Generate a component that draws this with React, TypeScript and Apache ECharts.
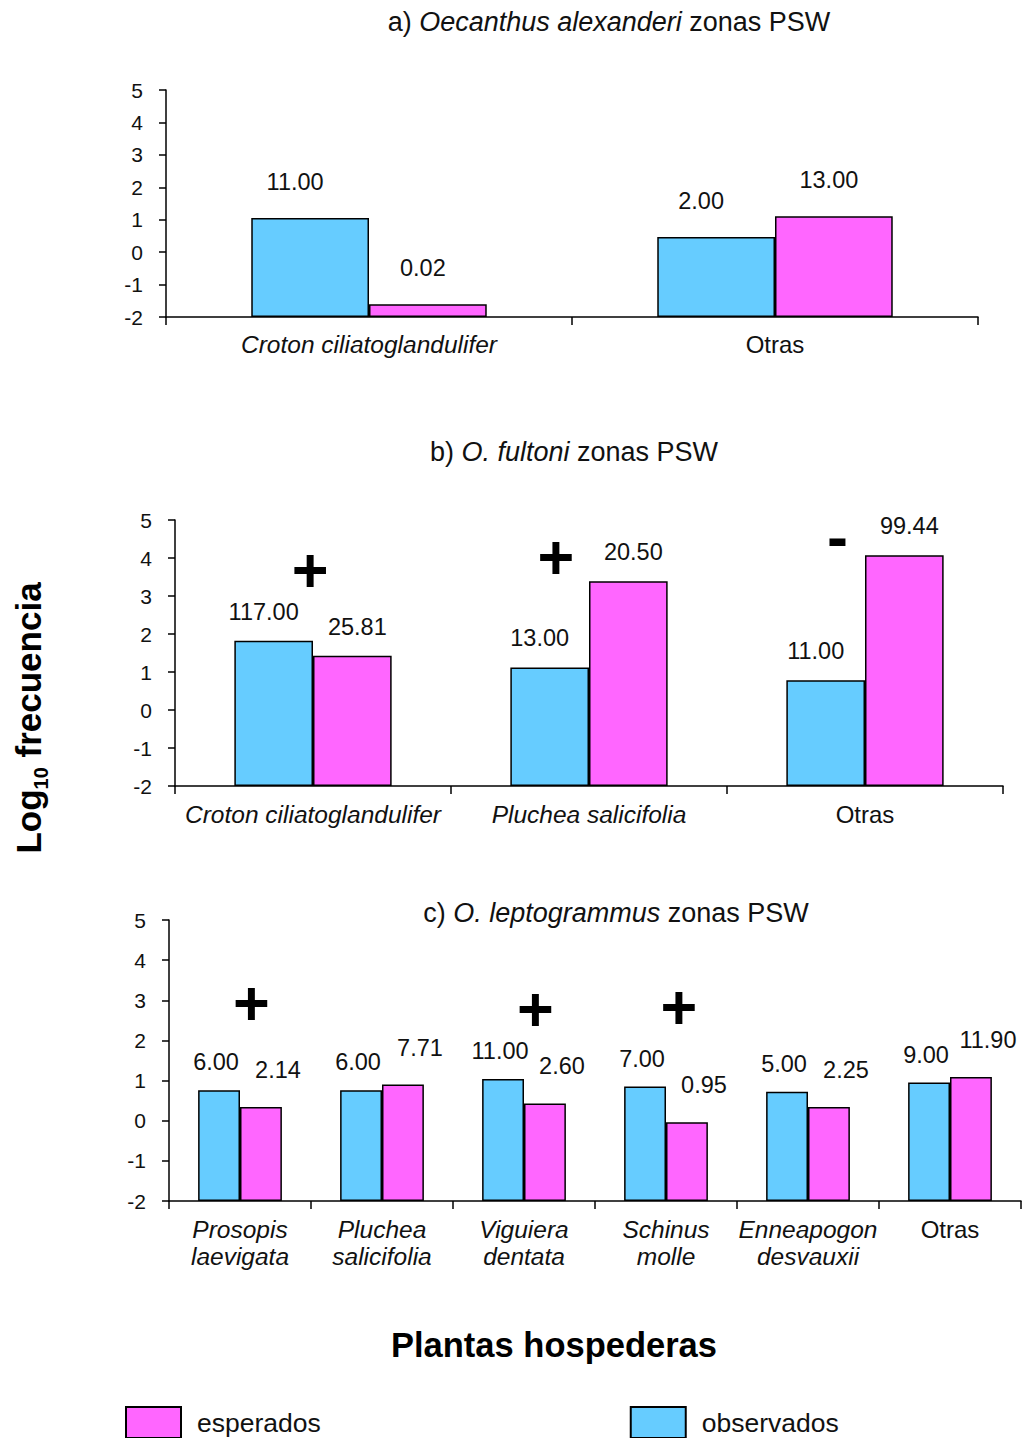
import React, { useEffect, useRef } from 'react';
import * as echarts from 'echarts';

// ---- axis range (log10 frecuencia) ----
const Y_MIN = -2;
const Y_MAX = 5;
const Y_STEP = 1;

// ---- a) Oecanthus alexanderi ----
const categoriesA = ['Croton ciliatoglandulifer', 'Otras'];
const observadosA = [1.05, 0.47];
const esperadosA = [-1.61, 1.11];
const observadosLabelsA = ['11.00', '2.00'];
const esperadosLabelsA = ['0.02', '13.00'];
const signsA: { at: number; level: number; mark: string }[] = [];

// ---- b) O. fultoni ----
const categoriesB = ['Croton ciliatoglandulifer', 'Pluchea salicifolia', 'Otras'];
const observadosB = [1.82, 1.12, 0.78];
const esperadosB = [1.43, 3.39, 4.07];
const observadosLabelsB = ['117.00', '13.00', '11.00'];
const esperadosLabelsB = ['25.81', '20.50', '99.44'];
// significance marks: position along the category axis (index units) and level (log10)
const signsB = [
  { at: -0.01, level: 3.68, mark: '+' },
  { at: 0.88, level: 4.03, mark: '+' },
  { at: 1.9, level: 4.55, mark: '-' },
];

// ---- c) O. leptogrammus ----
const categoriesC = [
  'Prosopis\nlaevigata',
  'Pluchea\nsalicifolia',
  'Viguiera\ndentata',
  'Schinus\nmolle',
  'Enneapogon\ndesvauxii',
  'Otras',
];
const observadosC = [0.76, 0.76, 1.04, 0.85, 0.72, 0.95];
const esperadosC = [0.34, 0.9, 0.43, -0.04, 0.34, 1.09];
const observadosLabelsC = ['6.00', '6.00', '11.00', '7.00', '5.00', '9.00'];
const esperadosLabelsC = ['2.14', '7.71', '2.60', '0.95', '2.25', '11.90'];
const signsC = [
  { at: 0.08, level: 2.93, mark: '+' },
  { at: 2.08, level: 2.78, mark: '+' },
  { at: 3.09, level: 2.83, mark: '+' },
];

const SERIES_OBS = 'observados';
const SERIES_EXP = 'esperados';
const BLUE = '#66CCFF';
const PINK = '#FF66FF';
const FONT = '"Liberation Sans", Arial, Helvetica, sans-serif';
const TXT = '#111';

const shift = (v: number) => v - Y_MIN;

const catFormatter = (v: string) =>
  v === 'Otras'
    ? '{n|Otras}'
    : v
        .split('\n')
        .map((l) => `{i|${l}}`)
        .join('\n');

function buildPanel(
  idx: number,
  cats: string[],
  obs: number[],
  exp: number[],
  obsLabels: string[],
  expLabels: string[],
  signs: { at: number; level: number; mark: string }[],
  gap: string,
  obsDist: number,
  expDist: number,
  catMargin: number,
  obsShift: number,
  expShift: number
) {
  const xAxis = {
    type: 'category',
    gridIndex: idx,
    data: cats,
    axisLine: { show: true, onZero: false, lineStyle: { color: '#000', width: 1.5 } },
    axisTick: { show: true, length: 8, lineStyle: { color: '#000', width: 1.5 } },
    axisLabel: {
      interval: 0,
      margin: catMargin,
      formatter: catFormatter,
      rich: {
        i: { fontFamily: FONT, fontStyle: 'italic', fontSize: 24.5, lineHeight: 27, color: TXT },
        n: { fontFamily: FONT, fontSize: 24, lineHeight: 27, color: TXT },
      },
    },
    splitLine: { show: false },
  };
  // hidden continuous axis across the same categories, used to place the significance marks
  const signAxis = {
    type: 'value',
    gridIndex: idx,
    min: -0.5,
    max: cats.length - 0.5,
    show: false,
    axisLine: { onZero: false },
    splitLine: { show: false },
  };
  const yAxis = {
    type: 'value',
    gridIndex: idx,
    min: shift(Y_MIN),
    max: shift(Y_MAX),
    interval: Y_STEP,
    axisLine: { show: true, onZero: false, lineStyle: { color: '#000', width: 1.5 } },
    axisTick: { show: true, length: 7, lineStyle: { color: '#000', width: 1.5 } },
    axisLabel: {
      margin: 23,
      fontFamily: FONT,
      fontSize: 21,
      color: TXT,
      formatter: (v: number) => String(v + Y_MIN),
    },
    splitLine: { show: false },
  };
  const labelStyle = {
    show: true,
    position: 'top',
    fontFamily: FONT,
    fontSize: 23.5,
    color: TXT,
  };
  const series: any[] = [
    {
      name: SERIES_OBS,
      type: 'bar',
      xAxisIndex: idx,
      yAxisIndex: idx,
      data: obs.map(shift),
      barGap: '0%',
      barCategoryGap: gap,
      itemStyle: { color: BLUE, borderColor: '#000', borderWidth: 1.5 },
      label: {
        ...labelStyle,
        distance: obsDist,
        offset: [obsShift, 0],
        formatter: (p: any) => obsLabels[p.dataIndex],
      },
    },
    {
      name: SERIES_EXP,
      type: 'bar',
      xAxisIndex: idx,
      yAxisIndex: idx,
      data: exp.map(shift),
      barGap: '0%',
      barCategoryGap: gap,
      itemStyle: { color: PINK, borderColor: '#000', borderWidth: 1.5 },
      label: {
        ...labelStyle,
        distance: expDist,
        offset: [expShift, 0],
        formatter: (p: any) => expLabels[p.dataIndex],
      },
    },
  ];
  if (signs.length) {
    series.push({
      name: 'signos',
      type: 'scatter',
      xAxisIndex: 3 + idx,
      yAxisIndex: idx,
      silent: true,
      symbol: 'rect',
      symbolSize: 1,
      itemStyle: { color: 'rgba(0,0,0,0)', opacity: 1 },
      label: {
        show: true,
        position: 'inside',
        fontFamily: FONT,
        fontWeight: 'bold',
        fontSize: 63,
        lineHeight: 30,
        color: '#000',
        opacity: 1,
        formatter: (p: any) => p.name,
      },
      data: signs.map((s) => ({ name: s.mark, value: [s.at, shift(s.level)] })),
    });
  }
  return { xAxis, signAxis, yAxis, series };
}

function titleText(x: number, y: number, pre: string, ital: string, post: string) {
  return {
    type: 'text',
    x,
    y,
    style: {
      text: `{n|${pre}}{i|${ital}}{n|${post}}`,
      align: 'center',
      verticalAlign: 'middle',
      fill: TXT,
      rich: {
        n: { fontFamily: FONT, fontSize: 27, fill: TXT },
        i: { fontFamily: FONT, fontSize: 27, fontStyle: 'italic', fill: TXT },
      },
    },
  };
}

export default function App() {
  const ref = useRef<HTMLDivElement>(null);

  useEffect(() => {
    if (!ref.current) return;
    const chart = echarts.init(ref.current, null, { renderer: 'svg' });
    const pA = buildPanel(0, categoriesA, observadosA, esperadosA, observadosLabelsA, esperadosLabelsA, signsA, '42%', 24, 24, 14, -15, -5);
    const pB = buildPanel(1, categoriesB, observadosB, esperadosB, observadosLabelsB, esperadosLabelsB, signsB, '43%', 17, 17, 15, -10, 5);
    const pC = buildPanel(2, categoriesC, observadosC, esperadosC, observadosLabelsC, esperadosLabelsC, signsC, '41%', 16, 25, 15, -3, 17);

    chart.setOption({
      animation: false,
      backgroundColor: '#fff',
      grid: [
        { left: 166, top: 90, width: 812, height: 227 },
        { left: 175, top: 520, width: 828, height: 266 },
        { left: 169, top: 920, width: 852, height: 281 },
      ],
      xAxis: [pA.xAxis, pB.xAxis, pC.xAxis, pA.signAxis, pB.signAxis, pC.signAxis],
      yAxis: [pA.yAxis, pB.yAxis, pC.yAxis],
      series: [...pA.series, ...pB.series, ...pC.series],
      legend: {
        data: [SERIES_EXP, SERIES_OBS],
        left: 125,
        top: 1406,
        padding: 0,
        itemWidth: 55,
        itemHeight: 31,
        itemGap: 309,
        icon: 'rect',
        selectedMode: false,
        textStyle: { fontFamily: FONT, fontSize: 26.5, color: TXT, padding: [0, 0, 0, 11] },
      },
      graphic: [
        titleText(609, 22, 'a) ', 'Oecanthus alexanderi', ' zonas PSW'),
        titleText(574, 452, 'b) ', 'O. fultoni', ' zonas PSW'),
        titleText(616, 913, 'c) ', 'O. leptogrammus', ' zonas PSW'),
        {
          type: 'text',
          x: 554,
          y: 1345,
          style: {
            text: 'Plantas hospederas',
            align: 'center',
            verticalAlign: 'middle',
            fontFamily: FONT,
            fontWeight: 'bold',
            fontSize: 34.5,
            fill: '#000',
          },
        },
        {
          type: 'text',
          x: 28,
          y: 718,
          rotation: Math.PI / 2,
          style: {
            text: '{b|Log}{s|10}{b| frecuencia}',
            align: 'center',
            verticalAlign: 'middle',
            fill: '#000',
            rich: {
              b: { fontFamily: FONT, fontWeight: 'bold', fontSize: 35, lineHeight: 46, fill: '#000' },
              s: {
                fontFamily: FONT,
                fontWeight: 'bold',
                fontSize: 20,
                lineHeight: 46,
                verticalAlign: 'bottom',
                padding: [14, 0, 0, 0],
                fill: '#000',
              },
            },
          },
        },
      ],
    });
    return () => chart.dispose();
  }, []);

  return (
    <div
      ref={ref}
      style={{ position: 'absolute', left: 0, top: 0, width: 1023, height: 1438, background: '#fff' }}
    />
  );
}
